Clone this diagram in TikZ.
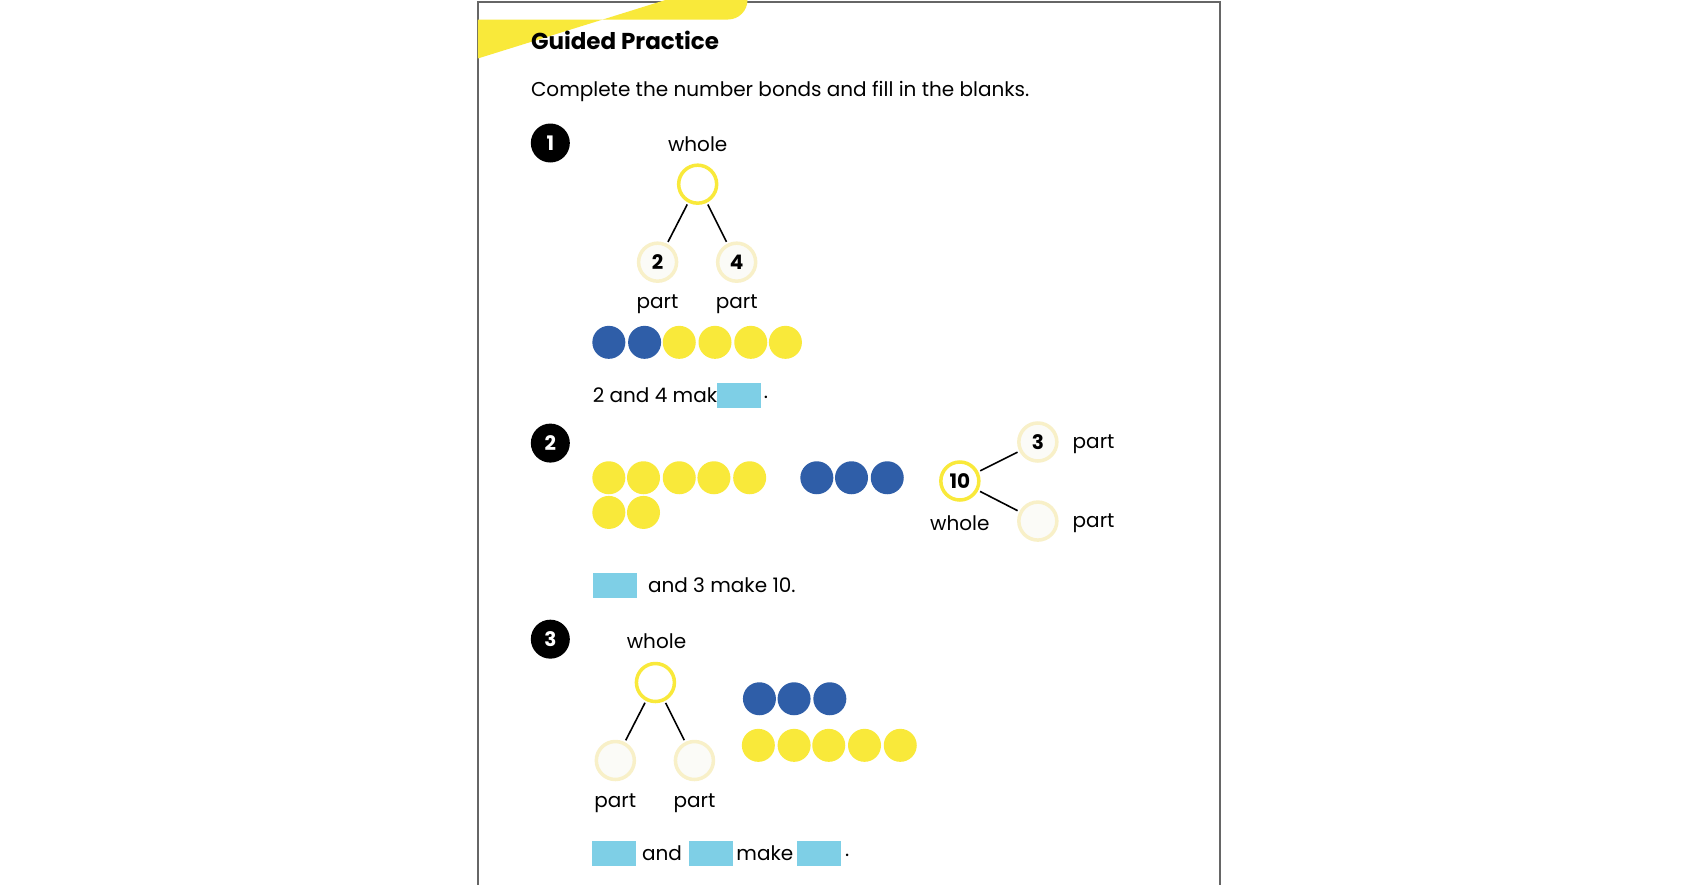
\documentclass[tikz,border=0pt]{standalone}
\usepackage{fontspec}
\setmainfont{Poppins}
\definecolor{ylw}{HTML}{F9E93A}
\definecolor{blu}{HTML}{2F5EA8}
\definecolor{cyn}{HTML}{7ECFE6}
\definecolor{pale}{HTML}{F8F0C8}
\definecolor{palefill}{HTML}{FBFBF7}
\tikzset{
 txt/.style={font=\fontsize{20}{22}\selectfont, inner sep=0pt},
 whole/.style={circle, draw=ylw, line width=3.5pt, fill=white, minimum size=38pt, inner sep=0pt, font=\fontsize{20}{22}\selectfont\bfseries},
 partc/.style={circle, draw=pale, line width=3.5pt, fill=palefill, minimum size=38pt, inner sep=0pt, font=\fontsize{20}{22}\selectfont\bfseries},
 yc/.style={circle, fill=ylw, minimum size=33pt, inner sep=0pt},
 bc/.style={circle, fill=blu, minimum size=33pt, inner sep=0pt},
 badge/.style={circle, fill=black, text=white, minimum size=39pt, inner sep=0pt, font=\fontsize{20}{22}\selectfont\bfseries},
 blank/.style={fill=cyn, minimum width=44pt, minimum height=25pt, inner sep=0pt},
 link/.style={line width=1.6pt, shorten <=2pt, shorten >=2pt}
}
\begin{document}
\begin{tikzpicture}[x=1.0833pt,y=-1.0833pt]
\useasboundingbox (0,0) rectangle (1560,816);
\fill[white] (0,0) rectangle (1560,816);
\draw[gray!80!black, line width=1.6pt] (441,2) rectangle (1126,822);
\fill[ylw] (441,18) -- (672,18) arc[start angle=90,end angle=-90,radius=18] -- (441,54) -- cycle;
\node[anchor=west, inner sep=0pt, font=\fontsize{23}{25}\selectfont\bfseries] (title) at (490,37) {Guided Practice};
\node[txt, anchor=west] (instr) at (490,84) {Complete the number bonds and fill in the blanks.};
% 1
\node[badge] (b1) at (508,132) {1};
\node[txt] (w1l) at (644,133) {whole};
\node[whole] (w1) at (644,170) {};
\node[partc] (p1a) at (607,242) {2};
\node[partc] (p1b) at (680,242) {4};
\draw[link] (w1) -- (p1a); \draw[link] (w1) -- (p1b);
\node[txt] (l1a) at (607,281) {part};
\node[txt] (l1b) at (680,281) {part};
\foreach \x/\n in {562/a,595/b} \node[bc] (c1\n) at (\x,316) {};
\foreach \x/\n in {627/c,660/d,693/e,725/f} \node[yc] (c1\n) at (\x,316) {};
\node[txt, anchor=west] (s1) at (547,365) {2 and 4 make};
\node[blank] (k1) at (682,365) {};
\node[txt, anchor=west] (d1) at (705,367) {.};
% 2
\node[badge] (b2) at (508,409) {2};
\foreach \x/\n in {562/a,594/b,627/c,659/d,692/e} \node[yc] (c2\n) at (\x,441) {};
\foreach \x/\n in {562/f,594/g} \node[yc] (c2\n) at (\x,473) {};
\foreach \x/\n in {754/h,786/i,819/j} \node[bc] (c2\n) at (\x,441) {};
\node[whole] (w2) at (886,444) {10};
\node[partc] (p2a) at (958,408) {3};
\node[partc] (p2b) at (958,481) {};
\draw[link] (w2) -- (p2a); \draw[link] (w2) -- (p2b);
\node[txt] (w2l) at (886,483) {whole};
\node[txt, anchor=west] (l2a) at (990,410) {part};
\node[txt, anchor=west] (l2b) at (990,483) {part};
\node[blank] (k2) at (568,540) {};
\node[txt, anchor=west] (s2) at (598,540) {and 3 make 10.};
% 3
\node[badge] (b3) at (508,590) {3};
\node[txt] (w3l) at (606,592) {whole};
\node[whole] (w3) at (605,630) {};
\node[partc] (p3a) at (568,702) {};
\node[partc] (p3b) at (641,702) {};
\draw[link] (w3) -- (p3a); \draw[link] (w3) -- (p3b);
\node[txt] (l3a) at (568,741) {part};
\node[txt] (l3b) at (641,741) {part};
\foreach \x/\n in {701/a,733/b,766/c} \node[bc] (c3\n) at (\x,645) {};
\foreach \x/\n in {700/d,733/e,765/f,798/g,831/h} \node[yc] (c3\n) at (\x,688) {};
\node[blank] (k3a) at (567,788) {};
\node[txt] (s3a) at (611,788) {and};
\node[blank] (k3b) at (656,788) {};
\node[txt] (s3b) at (706,788) {make};
\node[blank] (k3c) at (756,788) {};
\node[txt, anchor=west] (d3) at (780,790) {.};
\end{tikzpicture}
\end{document}
